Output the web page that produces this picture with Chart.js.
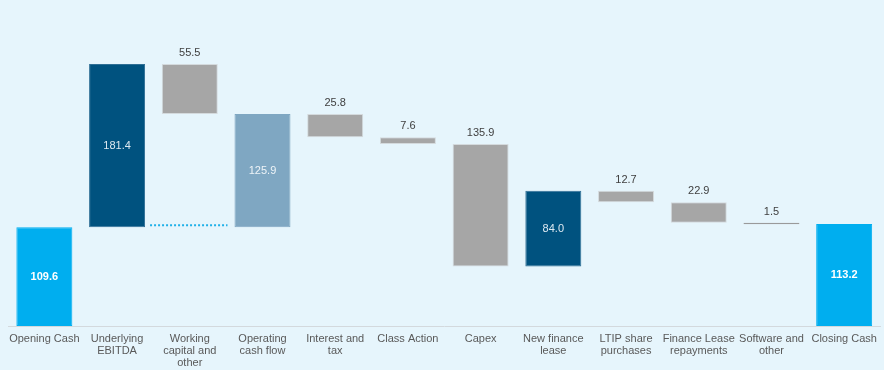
<!DOCTYPE html>
<html>
<head>
<meta charset="utf-8">
<script src="https://cdn.jsdelivr.net/npm/chart.js@4"></script>
<style>
  html, body { margin: 0; padding: 0; background: #e6f5fc; }
  #wrap { width: 884px; height: 370px; position: relative; }
</style>
</head>
<body>
<div id="wrap"><canvas id="cashBridge"></canvas></div>
<script>
const categories = [
    "Opening Cash", ["Underlying", "EBITDA"], ["Working", "capital and", "other"],
    ["Operating", "cash flow"], ["Interest and", "tax"], "Class Action", "Capex",
    ["New finance", "lease"], ["LTIP share", "purchases"], ["Finance Lease", "repayments"],
    ["Software and", "other"], "Closing Cash"
];
const shownValues = ["109.6", "181.4", "55.5", "125.9", "25.8", "7.6", "135.9", "84.0", "12.7", "22.9", "1.5", "113.2"];
const barLow  = [0,     109.6, 235.5, 109.6, 209.7, 202.1, 66.2,  66.2,  137.5, 114.6, 113.1, 0];
const barHigh = [109.6, 291.0, 291.0, 235.5, 235.5, 209.7, 202.1, 150.2, 150.2, 137.5, 114.6, 113.2];
const labelInside = [true, true, false, true, false, false, false, true, false, false, false, true];

const barColors = ['#00aeef', '#00527f', '#a6a6a6', '#7fa7c2', '#a6a6a6', '#a6a6a6',
                   '#a6a6a6', '#00527f', '#a6a6a6', '#a6a6a6', '#a6a6a6', '#00aeef'];
const edgeColors = ['#00aeef', '#2f6f95', '#d4dadd', '#7fa7c2', '#d4dadd', '#d4dadd',
                    '#d4dadd', '#2f6f95', '#d4dadd', '#d4dadd', '#9a9a9a', '#00aeef'];
const insideColors = ['#ffffff', '#dde9f1', '', '#eef4f8', '', '', '', '#dde9f1', '', '', '', '#ffffff'];
const insideBold = [true, false, false, false, false, false, false, false, false, false, false, true];

const valueLabels = {
    id: 'valueLabels',
    afterDatasetsDraw(chart) {
        const ctx = chart.ctx;
        const meta = chart.getDatasetMeta(0);
        ctx.save();
        ctx.textAlign = 'center';
        ctx.textBaseline = 'middle';
        meta.data.forEach((bar, i) => {
            const top = Math.min(bar.y, bar.base);
            const bottom = Math.max(bar.y, bar.base);
            if (labelInside[i]) {
                ctx.font = (insideBold[i] ? 'bold ' : '') + '11px "Liberation Sans", Arial, sans-serif';
                ctx.fillStyle = insideColors[i];
                ctx.fillText(shownValues[i], bar.x, (top + bottom) / 2);
            } else {
                ctx.font = '11px "Liberation Sans", Arial, sans-serif';
                ctx.fillStyle = '#404040';
                ctx.fillText(shownValues[i], bar.x, top - 11);
            }
        });
        // dotted connector under working capital
        const y = chart.scales.y;
        const b1 = meta.data[1], b3 = meta.data[3];
        const yy = y.getPixelForValue(barLow[1]) - 2;
        ctx.strokeStyle = '#1fb0e8';
        ctx.lineWidth = 2;
        ctx.setLineDash([2, 2]);
        ctx.beginPath();
        ctx.moveTo(b1.x + b1.width / 2 + 5, yy);
        ctx.lineTo(b3.x - b3.width / 2 - 7, yy);
        ctx.stroke();
        ctx.restore();
    }
};

new Chart(document.getElementById('cashBridge'), {
    type: 'bar',
    data: {
        labels: categories,
        datasets: [{
            data: barLow.map((lo, i) => [lo, barHigh[i]]),
            backgroundColor: barColors,
            borderColor: edgeColors,
            borderWidth: 1,
            borderSkipped: false,
            categoryPercentage: 1,
            barPercentage: 0.77
        }]
    },
    options: {
        responsive: true,
        maintainAspectRatio: false,
        animation: false,
        layout: { padding: { left: 8, right: 3, top: 0, bottom: 0 } },
        plugins: { legend: { display: false }, tooltip: { enabled: false } },
        scales: {
            x: {
                afterFit(scale) { scale.height = 44; },
                grid: { display: false, drawTicks: false },
                border: { color: '#d3d9dd', width: 1 },
                ticks: {
                    color: '#595959',
                    padding: 7,
                    maxRotation: 0,
                    autoSkip: false,
                    font: { family: '"Liberation Sans", Arial, sans-serif', size: 11, lineHeight: 1.1 }
                }
            },
            y: { display: false, min: 0, max: 362 }
        }
    },
    plugins: [valueLabels]
});
</script>
</body>
</html>
